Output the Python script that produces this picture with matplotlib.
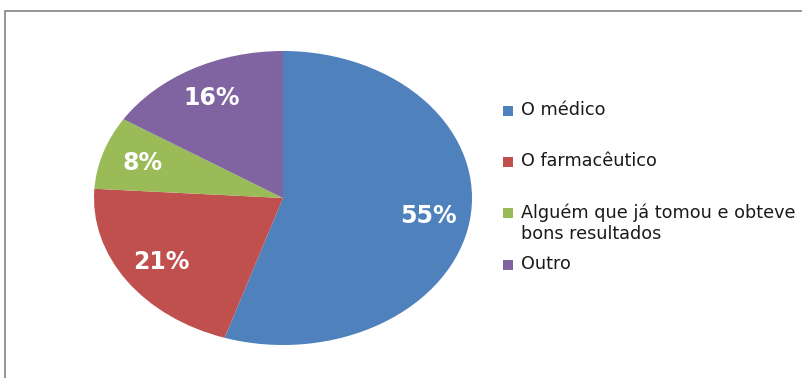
import matplotlib
matplotlib.use('Agg')
import matplotlib.pyplot as plt
from matplotlib.patches import Rectangle
from matplotlib.lines import Line2D

# data
categorias = ['O médico', 'O farmacêutico',
              'Alguém que já tomou e obteve\nbons resultados', 'Outro']
percentagens = [55, 21, 8, 16]
cores = ['#4F81BD', '#C0504D', '#9BBB59', '#8064A2']

W, H = 803, 378
fig = plt.figure(figsize=(W / 100, H / 100), dpi=100)

# grey frame (only top and left edges visible in the picture)
fig.lines.append(Line2D([5 / W, 5 / W, 1.1], [-0.1, 1 - 11 / H, 1 - 11 / H],
                        transform=fig.transFigure, color='#8c8c8c',
                        linewidth=1.3))

# pie stretched into an ellipse: centre (283,198), rx 189, ry 147
ax = fig.add_axes([94 / W, (H - 345) / H, 378 / W, 294 / H])
wedges, texts, autotexts = ax.pie(percentagens, colors=cores, startangle=90,
                                  counterclock=False, autopct='%.0f%%',
                                  pctdistance=0.78,
                                  wedgeprops=dict(edgecolor='none'))
for t in autotexts:
    t.set_color('white')
    t.set_fontweight('bold')
    t.set_fontsize(17)
ax.set_aspect('auto')
ax.set_xlim(-1, 1)
ax.set_ylim(-1, 1)
ax.axis('off')

# legend drawn by hand to keep Excel's spacing
leg_y = [111, 162, 213, 265]
for nome, cor, y in zip(categorias, cores, leg_y):
    fig.patches.append(Rectangle((503 / W, 1 - (y + 5) / H), 10 / W, 10 / H,
                                 transform=fig.transFigure, facecolor=cor,
                                 edgecolor='none'))
    fig.text(521 / W, 1 - (y - 10) / H, nome, fontsize=12.7, color='#1a1a1a',
             va='top', ha='left', linespacing=1.25)

fig.savefig('out.png', dpi=100)
